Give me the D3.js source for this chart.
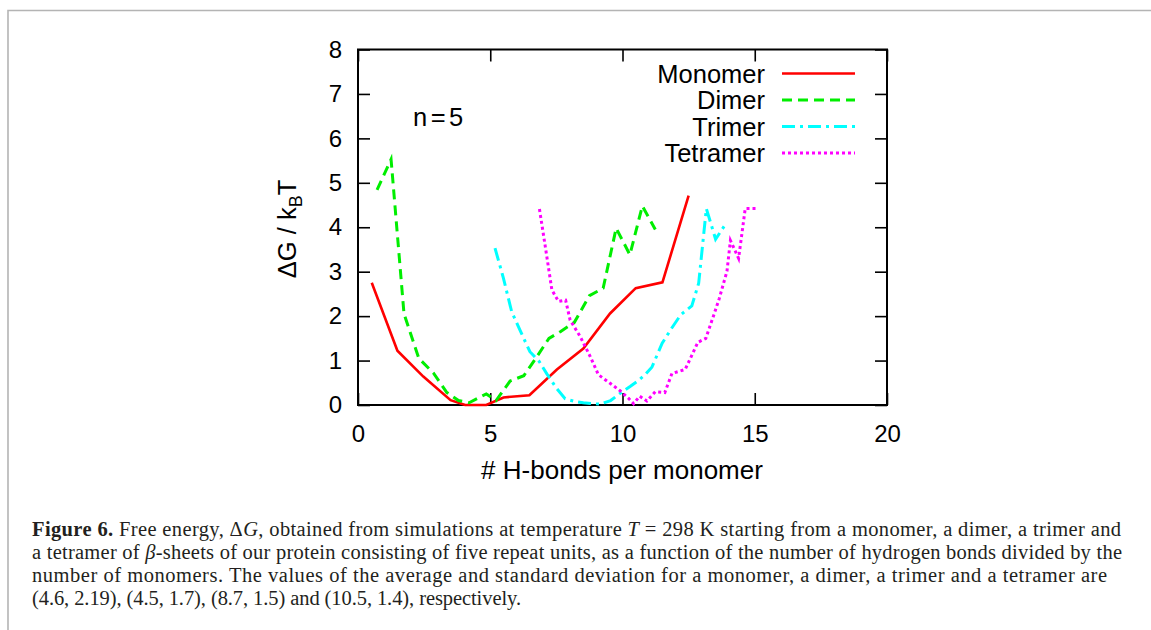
<!DOCTYPE html>
<html>
<head>
    <meta charset="utf-8">
    <title>free energy vs h-bonds</title>
    <style>
    body { margin: 0; background: #fff; }
    svg { display: block; }
    .tick text, .lbl { font-family: "Liberation Sans", Arial, sans-serif; fill: #000; }
    .cap { font-family: "Liberation Serif", "Times New Roman", serif; font-size: 20.5px; fill: #231f20; }
    </style>
</head>
<body>
    <svg width="1151" height="630"></svg>
    <script src="https://d3js.org/d3.v7.min.js" type="text/javascript"></script>
    <script>
        // series: [H-bonds per monomer, dG/kBT]
        var monomer = [[0.52,2.75],[1.49,1.22],[2.47,0.64],[3.5,0.11],[4.05,0],[4.85,0],[5.5,0.17],[6.48,0.22],
            [7.52,0.8],[8.52,1.27],[9.53,2.06],[10.5,2.63],[11.51,2.76],[12.5,4.71]];
        var dimer = [[0.72,4.84],[1.25,5.53],[1.74,2.05],[2.3,1.05],[2.85,0.72],[3.36,0.28],[3.8,0.1],[4.2,0.05],
            [4.85,0.25],[5.22,0.1],[5.75,0.54],[6.27,0.66],[6.72,1.05],[7.22,1.5],[7.65,1.65],[8.18,1.86],
            [8.75,2.46],[9.27,2.63],[9.76,3.98],[10.28,3.38],[10.75,4.48],[11.24,3.95]];
        var trimer = [[5.18,3.53],[5.5,2.85],[5.81,2.1],[6.15,1.65],[6.5,1.2],[6.85,0.98],[7.14,0.7],[7.5,0.38],
            [7.83,0.14],[8.2,0.08],[8.52,0.05],[8.85,0.03],[9.16,0.02],[9.55,0.1],[9.95,0.28],[10.3,0.42],
            [10.6,0.55],[10.85,0.68],[11.11,0.85],[11.5,1.39],[11.85,1.72],[12.2,2.03],[12.62,2.23],
            [12.88,2.74],[13.17,4.42],[13.52,3.73],[13.84,4.02]];
        var tetramer = [[6.86,4.41],[7.08,3.57],[7.33,2.59],[7.58,2.33],[7.85,2.36],[8.02,1.91],[8.4,1.54],
            [8.78,1.09],[9.09,0.68],[9.53,0.49],[9.91,0.32],[10.23,0.15],[10.42,0.03],[10.65,0.2],[10.92,0.09],
            [11.24,0.3],[11.6,0.28],[11.87,0.71],[12.37,0.8],[12.85,1.41],[13.15,1.5],[13.46,2.04],[13.66,2.4],
            [13.95,3.01],[14.08,3.7],[14.26,3.47],[14.39,3.3],[14.64,4.42],[15.07,4.42]];

        var seriesNames = ["Monomer", "Dimer", "Trimer", "Tetramer"];
        var seriesColors = ["#ff0000", "#00ee00", "#00ffff", "#ff00ff"];
        var seriesDash = [null, "10,6", "13,5,3,5", "3,3"];
        var xTicks = [0, 5, 10, 15, 20];
        var yTicks = [0, 1, 2, 3, 4, 5, 6, 7, 8];
        // # = bold piece, * = italic piece
        var captionLines = [
            "#Figure 6.|  Free energy, Δ|*G|, obtained from simulations at temperature |*T| = 298 K starting from a monomer, a dimer, a trimer and",
            "a tetramer of |*β|-sheets of our protein consisting of five repeat units, as a function of the number of hydrogen bonds divided by the",
            "number of monomers. The values of the average and standard deviation for a monomer, a dimer, a trimer and a tetramer are",
            "(4.6, 2.19), (4.5, 1.7), (8.7, 1.5) and (10.5, 1.4), respectively."
        ];
        var captionWidths = [1089, 1090, 1075, 489];

        var svg = d3.select("svg");
        var x = d3.scaleLinear().domain([0, 20]).range([358, 887]);
        var y = d3.scaleLinear().domain([0, 8]).range([405, 49.5]);

        // page frame
        svg.append("path").attr("d", "M8,630V10.5H1151")
            .attr("fill", "none").attr("stroke", "#b4b4b4").attr("stroke-width", 1.6);

        var tk = 12;
        svg.append("g").attr("transform", "translate(0,405)")
            .call(d3.axisBottom(x).tickValues(xTicks).tickSizeInner(-tk).tickSizeOuter(0).tickPadding(20));
        svg.append("g").attr("transform", "translate(358,0)")
            .call(d3.axisLeft(y).tickValues(yTicks).tickSizeInner(-tk).tickSizeOuter(0).tickPadding(16));
        svg.append("g").attr("transform", "translate(0,49.5)")
            .call(d3.axisTop(x).tickValues(xTicks).tickSizeInner(-tk).tickSizeOuter(0).tickFormat(""));
        svg.append("g").attr("transform", "translate(887,0)")
            .call(d3.axisRight(y).tickValues(yTicks).tickSizeInner(-tk).tickSizeOuter(0).tickFormat(""));
        svg.selectAll(".domain").remove();
        svg.selectAll(".tick line").attr("stroke", "#000").attr("stroke-width", 1.6);
        svg.selectAll(".tick text").style("font-size", "24px");

        svg.append("rect").attr("x", 358).attr("y", 49.5).attr("width", 529).attr("height", 355.5)
            .attr("fill", "none").attr("stroke", "#000").attr("stroke-width", 2);

        var line = d3.line().x(d => x(d[0])).y(d => y(d[1]));
        var allSeries = [monomer, dimer, trimer, tetramer];
        svg.append("g").selectAll("path")
            .data(allSeries)
            .enter()
            .append("path")
            .attr("d", line)
            .attr("fill", "none")
            .attr("stroke", (d, i) => seriesColors[i])
            .attr("stroke-width", (d, i) => i == 0 ? 2.6 : 3)
            .attr("stroke-dasharray", (d, i) => seriesDash[i]);

        // legend
        var leg = svg.append("g").selectAll("g")
            .data(seriesNames)
            .enter()
            .append("g")
            .attr("transform", (d, i) => "translate(0," + (73.5 + i * 26.5) + ")");
        leg.append("text").attr("class", "lbl").attr("x", 765).attr("y", 9)
            .attr("text-anchor", "end").style("font-size", "25.5px").text(d => d);
        leg.append("line").attr("x1", 782).attr("x2", 855)
            .attr("stroke", (d, i) => seriesColors[i])
            .attr("stroke-width", (d, i) => i == 0 ? 2.6 : 3)
            .attr("stroke-dasharray", (d, i) => seriesDash[i]);

        svg.append("text").attr("class", "lbl").attr("x", 413).attr("y", 126)
            .style("font-size", "25.5px").style("letter-spacing", "3.5px").text("n=5");

        svg.append("text").attr("class", "lbl").attr("x", 622).attr("y", 479)
            .attr("text-anchor", "middle").style("font-size", "26px").text("# H-bonds per monomer");

        var yl = svg.append("text").attr("class", "lbl")
            .attr("transform", "translate(296,229) rotate(-90)")
            .attr("text-anchor", "middle").style("font-size", "25.5px");
        yl.append("tspan").text("ΔG / k");
        yl.append("tspan").attr("dy", 6).style("font-size", "18px").text("B");
        yl.append("tspan").attr("dy", -6).text("T");

        // caption
        captionLines.forEach(function(s, i) {
            var t = svg.append("text").attr("class", "cap")
                .attr("x", 32).attr("y", 536 + i * 23)
                .attr("textLength", captionWidths[i]).attr("lengthAdjust", "spacing");
            s.split("|").forEach(function(part) {
                var ts = t.append("tspan");
                if (part[0] == "#") ts.style("font-weight", "bold").text(part.slice(1));
                else if (part[0] == "*") ts.style("font-style", "italic").text(part.slice(1));
                else ts.text(part);
            });
        });
    </script>
</body>
</html>
